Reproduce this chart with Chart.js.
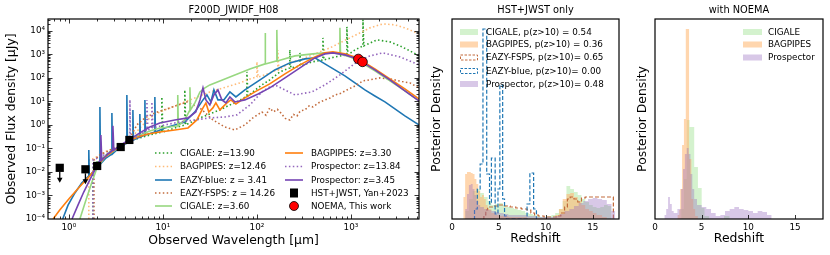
<!DOCTYPE html>
<html>
<head>
<meta charset="utf-8">
<title>F200D_JWIDF_H08</title>
<script src="https://cdn.jsdelivr.net/npm/chart.js@4.4.1/dist/chart.umd.min.js"></script>
<style>
  html, body { margin: 0; padding: 0; background: #fff; }
  #wrap { position: relative; width: 830px; height: 255px; overflow: hidden; }
  #wrap canvas { position: absolute; top: 0; }
</style>
</head>
<body>
<div id="wrap">
  <canvas id="sed" width="425" height="255" style="left:0px"></canvas>
  <canvas id="hstOnly" width="200" height="255" style="left:425px"></canvas>
  <canvas id="withNoema" width="205" height="255" style="left:625px"></canvas>
</div>
<script>
// ---------- SED fits: [wavelength um, flux density uJy] ----------
var cigaleHighZ = [[1.80,1e-4],[1.80,0.020],[2.14,0.032],[2.73,0.071],[3.57,0.128],[4.35,0.208],[5.69,0.28],[7.27,0.375],[9.75,0.50],[9.75,15.5],[10.0,0.50],[13.4,0.745],[17.1,1.0],[17.1,30.8],[17.5,1.0],[24.8,1.99],[31.6,2.94],[40.4,4.35],[51.6,7.1],[61.3,9.52],[78.3,17.1],[78.3,180],[80.2,17.1],[90.6,25.4],[113,50.4],[137,82.2],[176,180],[224,267],[224,1550],[230,267],[287,324],[287,1160],[294,324],[385,480],[504,583],[504,5030],[516,583],[676,783],[906,952],[906,14790],[929,952],[1104,1550],[1343,2300],[1343,29400],[1374,2300],[1892,4140],[2600,3400],[3319,2300],[4246,1410],[5290,863]];
var bagpipesHighZ = [[1.63,1e-4],[1.63,0.032],[1.89,0.039],[2.42,0.071],[3.09,0.105],[3.57,0.128],[4.35,0.208],[5.69,0.745],[7.27,1.99],[9.29,3.57],[11.9,5.29],[15.2,7.83],[19.4,11.6],[24.8,17.1],[31.6,25.4],[40.4,34],[51.6,45.7],[65.9,61.3],[84.3,90.6],[100,110],[100,480],[103,110],[122,134],[155,199],[167,219],[167,1550],[171,219],[224,435],[287,583],[366,863],[468,1280],[598,1890],[764,3080],[975,5030],[1247,8220],[1592,13430],[2188,19860],[2938,18000],[3750,13430],[5290,7450]];
var eazyBlue = [[0.86,1e-4],[0.98,3.9e-4],[1.16,1.28e-3],[1.37,3.4e-3],[1.63,6.8e-3],[1.63,0.086],[1.65,6.8e-3],[1.89,0.0122],[2.14,0.022],[2.14,5.83],[2.17,0.022],[2.48,0.039],[2.87,0.058],[2.87,3.24],[2.91,0.058],[3.32,0.095],[3.85,0.141],[4.14,0.171],[4.14,18.9],[4.2,0.171],[4.80,0.23],[4.80,4.35],[4.86,0.23],[5.69,0.308],[5.69,2.94],[5.76,0.308],[6.44,0.375],[6.44,11.6],[6.52,0.375],[8.22,0.50],[8.22,15.5],[8.32,0.50],[10.5,0.745],[13.4,1.0],[17.1,1.34],[21.9,3.57],[26.7,11.6],[29.4,18.9],[32.4,9.52],[34.9,30.8],[38.5,11.6],[44.5,11.6],[51.6,25.4],[59.8,15.5],[74.5,30.8],[108,82.2],[155,219],[224,435],[324,644],[414,710],[529,394],[676,219],[863,122],[1104,61.3],[1409,30.8],[1799,17.1],[2301,9.52],[2938,4.8],[3750,2.42],[5290,1.0]];
var eazyFsps = [[1.85,1e-4],[1.85,0.032],[2.14,0.053],[2.73,0.086],[3.57,0.128],[4.35,0.23],[5.29,1.0],[6.44,1.99],[8.22,3.24],[11.9,5.29],[18.0,9.52],[24.8,5.29],[34.0,1.63],[45.7,0.82],[58.3,0.61],[74.5,1.0],[90.6,1.99],[113,3.57],[125,2.6],[137,5.29],[150,3.6],[165,4.6],[176,3.57],[200,1.9],[224,1.63],[245,2.8],[267,2.42],[290,4.0],[324,4.35],[360,6.5],[394,5.83],[460,9.0],[529,11.6],[600,14],[676,18.9],[780,22],[906,30.8],[1100,45],[1343,74.5],[1650,85],[2036,100],[2500,92],[2938,82.2],[3500,70],[4246,61.3],[5290,37.5]];
var cigaleLowZ = [[1.31,1e-4],[1.52,6.4e-4],[1.76,3.7e-3],[1.99,0.0148],[2.42,0.043],[3.09,0.086],[3.57,0.128],[4.35,0.208],[5.29,0.34],[6.44,0.457],[7.27,0.555],[9.29,0.745],[11.9,0.82],[14.4,0.91],[14.4,18.9],[14.6,0.91],[17.1,1.63],[19.4,4.35],[19.4,40],[19.7,4.35],[21.9,8.63],[24.8,25.4],[28.0,37.5],[31.6,50.4],[40.4,74.5],[58.3,134],[84.3,242],[122,394],[122,8220],[124,394],[163,529],[163,11030],[165,529],[254,863],[394,1050],[529,1160],[644,1160],[764,1050],[764,13430],[775,1050],[975,783],[1247,480],[1799,199],[2600,74.5],[3750,28],[5290,10.5]];
var bagpipesLowZ = [[0.68,1e-4],[0.80,2.4e-4],[1.02,7.8e-4],[1.31,2.4e-3],[1.67,6.8e-3],[1.99,0.018],[2.42,0.043],[2.94,0.078],[3.57,0.128],[4.35,0.208],[5.42,0.308],[6.92,0.414],[9.29,0.50],[13.4,0.61],[18.5,0.745],[23.0,1.63],[26.7,5.29],[28.7,8.63],[30.8,3.57],[34.0,5.29],[36.6,8.63],[40.4,4.35],[48.0,8.63],[52.9,11.6],[59.8,7.83],[74.5,14.1],[95.2,25.4],[137,55.6],[199,148],[287,357],[414,783],[529,1160],[644,1280],[863,1050],[1104,783],[1309,529],[1799,242],[2600,90.6],[3750,34],[5290,12.8]];
var prospectorHighZ = [[1.80,1e-4],[1.80,0.032],[2.14,0.043],[2.73,0.071],[3.57,0.116],[4.35,0.19],[4.46,0.19],[4.46,11.6],[4.52,0.19],[5.69,0.375],[6.76,0.61],[6.76,11.6],[6.92,0.61],[7.64,0.745],[7.64,9.52],[7.83,0.745],[10.5,1.0],[15.2,1.34],[21.9,1.63],[31.6,1.99],[45.7,2.19],[61.3,2.67],[84.3,7.1],[113,25.4],[137,41.4],[163,45.7],[199,30.8],[254,18.9],[385,25.4],[529,50.4],[764,134],[1159,480],[1592,863],[2188,1160],[3319,783],[5290,357]];
var prospectorLowZ = [[1.08,1e-4],[1.25,3.9e-4],[1.44,1.4e-3],[1.67,4.6e-3],[1.89,0.0122],[2.08,0.027],[2.19,0.032],[2.19,0.375],[2.24,0.032],[2.60,0.058],[2.94,0.086],[2.94,0.91],[3.01,0.086],[3.57,0.141],[4.35,0.23],[5.69,0.457],[7.27,0.82],[9.29,1.22],[13.4,1.63],[18.5,1.99],[22.4,3.57],[24.8,11.6],[26.7,37.5],[28.7,11.6],[31.6,7.1],[34.9,18.9],[38.5,30.8],[42.4,11.6],[46.8,8.63],[51.6,15.5],[58.3,9.52],[74.5,11.6],[103,20.8],[137,37.5],[199,100],[287,267],[414,710],[529,1050],[644,1160],[863,952],[1104,710],[1309,480],[1799,219],[2600,82.2],[3750,28],[5290,10.5]];

// photometry
var hstWave = [2.0, 3.56, 4.4];
var hstFlux = [0.018, 0.115, 0.23];
var hstLimWave = [0.8, 1.5];
var hstLimFlux = [0.015, 0.013];
var noemaWave = [1200, 1330];
var noemaFlux = [640, 480];

// ---------- redshift posteriors: [bin left edge, density] ----------
var pzCigale = [[1.4,0.04],[1.8,0.10],[2.2,0.14],[2.6,0.15],[3.0,0.13],[3.4,0.11],[3.8,0.09],[4.2,0.07],[4.6,0.075],[5.0,0.08],[5.4,0.07],[5.8,0.06],[6.2,0.055],[6.6,0.05],[7.0,0.045],[7.4,0.04],[7.8,0.03],[8.2,0.025],[8.6,0.02],[9.0,0.015],[9.4,0.01],[9.8,0.01],[10.2,0.015],[10.6,0.02],[11.0,0.03],[11.4,0.05],[11.8,0.09],[12.2,0.165],[12.6,0.15],[13.0,0.135],[13.4,0.12],[13.8,0.10],[14.2,0.085],[14.6,0.07],[15.0,0.06],[15.4,0.055],[15.8,0.06],[16.2,0.07],[16.6,0.065],[17.0,0]];
var pzBagpipes = [[1.2,0.11],[1.4,0.225],[1.6,0.235],[1.8,0.235],[2.0,0.23],[2.2,0.225],[2.4,0.2],[2.6,0.175],[2.8,0.14],[3.0,0.11],[3.2,0.12],[3.4,0.10],[3.6,0.07],[3.8,0.05],[4.2,0.03],[4.6,0.02],[5.0,0.015],[6.0,0.01],[8.0,0.005],[10.0,0.005],[11.0,0.02],[11.4,0.05],[11.8,0.10],[12.2,0.125],[12.6,0.13],[13.0,0.11],[13.4,0.09],[13.8,0.07],[14.2,0.05],[14.6,0.04],[15.0,0.03],[15.4,0.02],[16.0,0.01],[16.5,0]];
var pzEazyFsps = [[3.3,0],[3.4,0.02],[3.6,0.045],[3.8,0.06],[4.4,0.065],[5.0,0.07],[5.6,0.065],[6.2,0.06],[6.8,0.055],[7.4,0.05],[8.0,0.045],[8.4,0.03],[8.8,0.02],[9.2,0.015],[9.8,0.01],[10.6,0.01],[11.2,0.015],[11.6,0.03],[12.0,0.06],[12.3,0.10],[12.6,0.11],[13.0,0.10],[13.4,0.085],[13.8,0.105],[14.2,0.11],[17.2,0]];
var pzEazyBlue = [[2.3,0],[2.4,0.05],[2.7,0.15],[3.0,0.275],[3.3,0.95],[3.7,0.225],[4.0,0.075],[4.2,0.305],[4.6,0.025],[4.9,0.15],[5.1,0.67],[5.4,0.1],[5.6,0.015],[5.8,0],[8.0,0.075],[8.3,0.23],[8.7,0.05],[9.0,0]];
var pzProspector = [[1.4,0.05],[1.6,0.125],[1.8,0.17],[2.0,0.175],[2.2,0.15],[2.4,0.12],[2.6,0.09],[2.8,0.07],[3.0,0.06],[3.4,0.05],[3.8,0.045],[4.2,0.04],[4.6,0.035],[5.0,0.03],[5.5,0.025],[6.0,0.02],[7.0,0.02],[8.0,0.015],[9.0,0.01],[10.0,0.01],[11.0,0.015],[11.5,0.025],[12.0,0.04],[12.5,0.05],[13.0,0.065],[13.5,0.08],[14.0,0.09],[14.5,0.1],[15.0,0.105],[15.5,0.1],[16.0,0.095],[16.5,0.075],[17.0,0.04],[17.4,0]];

var pzCigaleNoema = [[2.8,0.05],[3.1,0.2],[3.4,0.495],[3.7,0.46],[4.2,0.26],[4.6,0.155],[5.0,0.055],[5.3,0.015],[5.8,0],[7.4,0.015],[8.0,0]];
var pzBagpipesNoema = [[2.4,0.02],[2.6,0.045],[2.7,0.15],[2.9,0.37],[3.1,0.5],[3.3,0.95],[3.65,0.3],[3.9,0.1],[4.1,0.05],[4.3,0.015],[4.6,0]];
var pzProspectorNoema = [[1.0,0.02],[1.2,0.05],[1.4,0.11],[1.6,0.075],[1.8,0.04],[2.0,0.03],[2.4,0.05],[2.8,0.15],[3.0,0.25],[3.2,0.325],[3.4,0.355],[3.6,0.325],[3.8,0.225],[4.0,0.15],[4.2,0.1],[4.5,0.07],[5.0,0.06],[5.5,0.05],[6.0,0.03],[6.5,0.015],[7.0,0.02],[7.5,0.04],[8.0,0.05],[8.5,0.06],[9.0,0.05],[9.5,0.045],[10.0,0.04],[10.5,0.03],[11.0,0.04],[11.5,0.035],[12.0,0.02],[12.5,0]];

// ---------- colours ----------
var cGreen = '#2ca02c', cLightOrange = '#ffbb78', cBlue = '#1f77b4', cBrown = '#c26b3c';
var cLightGreen = '#98d880', cOrange = '#ff7f0e', cPurple = '#9467bd', cDarkPurple = '#7544b3';
var DOT = [1.5, 2.4];
var FONT = '"DejaVu Sans", sans-serif';

Chart.defaults.font.family = FONT;
Chart.defaults.color = '#000';

var sup = function(n) {
    return String(n).split('').map(function(c) { return c === '-' ? '\u207b' : '\u2070\u00b9\u00b2\u00b3\u2074\u2075\u2076\u2077\u2078\u2079'[+c]; }).join('');
};
var powLabel = function(v) {
    var l = Math.log10(v), r = Math.round(l);
    return Math.abs(l - r) < 1e-6 ? '10' + sup(r) : '';
};
var toXY = function(arr) { return arr.map(function(p) { return {x: p[0], y: p[1]}; }); };
var zip = function(a, b) { return a.map(function(v, i) { return {x: v, y: b[i]}; }); };
var logTicks = function(lo, hi) {
    var t = [];
    for (var n = lo; n <= hi; n++) for (var d = 1; d <= 9; d++) t.push([d * Math.pow(10, n), d === 1 ? 4.5 : 2.5]);
    return t;
};

// draws frame, inward ticks, panel title, legend and upper-limit arrows
var decor = {
    id: 'decor',
    afterDraw: function(chart, args, o) {
        var ctx = chart.ctx, a = chart.chartArea, sx = chart.scales.x, sy = chart.scales.y;
        ctx.save();
        ctx.strokeStyle = '#000';
        ctx.fillStyle = '#000';
        // upper limit arrows
        (o.arrows || []).forEach(function(p) {
            var px = sx.getPixelForValue(p.x), py = sy.getPixelForValue(p.y);
            ctx.lineWidth = 1.3;
            ctx.beginPath(); ctx.moveTo(px, py + 4); ctx.lineTo(px, py + 11); ctx.stroke();
            ctx.beginPath(); ctx.moveTo(px - 2.8, py + 10); ctx.lineTo(px + 2.8, py + 10); ctx.lineTo(px, py + 15); ctx.closePath(); ctx.fill();
        });
        // ticks
        ctx.lineWidth = 0.8;
        ctx.beginPath();
        (o.xTicks || []).forEach(function(t) {
            var p = Math.round(sx.getPixelForValue(t[0])) + 0.5;
            if (p <= a.left + 1 || p >= a.right - 1) return;
            ctx.moveTo(p, a.bottom); ctx.lineTo(p, a.bottom - t[1]);
            if (o.mirror) { ctx.moveTo(p, a.top); ctx.lineTo(p, a.top + t[1]); }
        });
        (o.yTicks || []).forEach(function(t) {
            var p = Math.round(sy.getPixelForValue(t[0])) + 0.5;
            if (p <= a.top + 1 || p >= a.bottom - 1) return;
            ctx.moveTo(a.left, p); ctx.lineTo(a.left + t[1], p);
            if (o.mirror) { ctx.moveTo(a.right, p); ctx.lineTo(a.right - t[1], p); }
        });
        ctx.stroke();
        // frame
        ctx.lineWidth = 1.2;
        ctx.strokeRect(a.left, a.top, a.right - a.left, a.bottom - a.top);
        // title
        ctx.font = '9.8px ' + FONT;
        ctx.textAlign = 'center';
        ctx.textBaseline = 'middle';
        ctx.fillText(o.title, (a.left + a.right) / 2, 10);
        // legend
        ctx.textAlign = 'left';
        ctx.font = '8.8px ' + FONT;
        (o.legend || []).forEach(function(it) {
            ctx.save();
            if (it.kind === 'line') {
                ctx.strokeStyle = it.color; ctx.lineWidth = 1.6; ctx.setLineDash(it.dash || []);
                ctx.beginPath(); ctx.moveTo(it.x, it.y); ctx.lineTo(it.x + it.w, it.y); ctx.stroke();
            } else if (it.kind === 'rect') {
                ctx.fillStyle = it.color; ctx.fillRect(it.x, it.y - 3, it.w, 6);
            } else if (it.kind === 'dashrect') {
                ctx.strokeStyle = it.color; ctx.lineWidth = 1; ctx.setLineDash([2.5, 1.5]);
                ctx.strokeRect(it.x + 0.5, it.y - 2.5, it.w - 1, 5);
            } else if (it.kind === 'square') {
                ctx.fillStyle = '#000'; ctx.fillRect(it.x + it.w / 2 - 4, it.y - 4.5, 8, 9);
            } else if (it.kind === 'circle') {
                ctx.fillStyle = 'red'; ctx.strokeStyle = '#000'; ctx.lineWidth = 0.8;
                ctx.beginPath(); ctx.arc(it.x + it.w / 2, it.y, 4.5, 0, Math.PI * 2); ctx.fill(); ctx.stroke();
            }
            ctx.restore();
            ctx.fillText(it.label, it.tx, it.y + 0.5);
        });
        ctx.restore();
    }
};

var sedLine = function(label, data, color, dotted, order) {
    return {label: label, data: toXY(data), showLine: true, borderColor: color, borderWidth: 1.6,
            borderDash: dotted ? DOT : [], pointRadius: 0, order: order};
};
var histFill = function(label, data, color, order) {
    return {label: label, data: toXY(data), showLine: true, stepped: true, fill: 'origin',
            backgroundColor: color, borderColor: 'rgba(0,0,0,0)', borderWidth: 0, pointRadius: 0, order: order};
};
var histStep = function(label, data, color, order) {
    return {label: label, data: toXY(data), showLine: true, stepped: true, fill: false,
            borderColor: color, borderWidth: 1.2, borderDash: [4, 2], pointRadius: 0, order: order};
};

var noTicksGrid = {display: false, drawTicks: false};

// ---------- left: SED ----------
var r1 = [153, 166.5, 180, 193, 206];
var sedConfig = {
    type: 'scatter',
    data: {
        datasets: [
            sedLine('CIGALE: z=13.90', cigaleHighZ, cGreen, true, 20),
            sedLine('BAGPIPES: z=12.46', bagpipesHighZ, cLightOrange, true, 19),
            sedLine('EAZY-blue: z = 3.41', eazyBlue, cBlue, false, 18),
            sedLine('EAZY-FSPS: z = 14.26', eazyFsps, cBrown, true, 17),
            sedLine('CIGALE: z=3.60', cigaleLowZ, cLightGreen, false, 16),
            sedLine('BAGPIPES: z=3.30', bagpipesLowZ, cOrange, false, 15),
            sedLine('Prospector: z=13.84', prospectorHighZ, cPurple, true, 14),
            sedLine('Prospector: z=3.45', prospectorLowZ, cDarkPurple, false, 13),
            {label: 'HST+JWST, Yan+2023', data: zip(hstWave.concat(hstLimWave), hstFlux.concat(hstLimFlux)),
             pointStyle: 'rect', pointRadius: 5.8, backgroundColor: '#000', borderColor: '#000', borderWidth: 0, order: 2},
            {label: 'NOEMA, This work', data: zip(noemaWave, noemaFlux),
             pointStyle: 'circle', pointRadius: 4.8, backgroundColor: 'red', borderColor: '#000', borderWidth: 0.8, order: 1}
        ]
    },
    options: {
        responsive: false,
        animation: false,
        layout: {padding: {top: 19, right: 6, left: 0, bottom: 0}},
        plugins: {
            legend: {display: false},
            tooltip: {enabled: false},
            decor: {
                title: 'F200D_JWIDF_H08',
                mirror: true,
                xTicks: logTicks(-1, 3),
                yTicks: logTicks(-5, 4),
                arrows: zip(hstLimWave, hstLimFlux),
                legend: [
                    {kind: 'line', x: 155, w: 17, y: r1[0], color: cGreen, dash: DOT, tx: 180, label: 'CIGALE: z=13.90'},
                    {kind: 'line', x: 155, w: 17, y: r1[1], color: cLightOrange, dash: DOT, tx: 180, label: 'BAGPIPES: z=12.46'},
                    {kind: 'line', x: 155, w: 17, y: r1[2], color: cBlue, tx: 180, label: 'EAZY-blue: z = 3.41'},
                    {kind: 'line', x: 155, w: 17, y: r1[3], color: cBrown, dash: DOT, tx: 180, label: 'EAZY-FSPS: z = 14.26'},
                    {kind: 'line', x: 155, w: 17, y: r1[4], color: cLightGreen, tx: 180, label: 'CIGALE: z=3.60'},
                    {kind: 'line', x: 285, w: 18, y: r1[0], color: cOrange, tx: 311, label: 'BAGPIPES: z=3.30'},
                    {kind: 'line', x: 285, w: 18, y: r1[1], color: cPurple, dash: DOT, tx: 311, label: 'Prospector: z=13.84'},
                    {kind: 'line', x: 285, w: 18, y: r1[2], color: cDarkPurple, tx: 311, label: 'Prospector: z=3.45'},
                    {kind: 'square', x: 285, w: 18, y: r1[3], tx: 311, label: 'HST+JWST, Yan+2023'},
                    {kind: 'circle', x: 285, w: 18, y: r1[4], tx: 311, label: 'NOEMA, This work'}
                ]
            }
        },
        scales: {
            x: {
                type: 'logarithmic', min: 0.6, max: 5300,
                grid: noTicksGrid, border: {display: false},
                ticks: {autoSkip: false, maxRotation: 0, minRotation: 0, padding: 3, font: {size: 8.8}, callback: powLabel},
                title: {display: true, text: 'Observed Wavelength [\u03bcm]', font: {size: 12.4}, padding: {top: 0, bottom: 6.5}},
                afterFit: function(s) { s.height = 36; }
            },
            y: {
                type: 'logarithmic', min: 1e-4, max: 3.2e4,
                grid: noTicksGrid, border: {display: false},
                ticks: {autoSkip: false, padding: 3, font: {size: 8.8}, callback: powLabel},
                title: {display: true, text: 'Observed Flux density [\u03bcJy]', font: {size: 12.4}, padding: {top: 4.5, bottom: 0}},
                afterFit: function(s) { s.width = 48; }
            }
        }
    },
    plugins: [decor]
};

var zScales = function(xmax, yTitlePad) {
    return {
        x: {
            type: 'linear', min: 0, max: xmax,
            grid: noTicksGrid, border: {display: false},
            ticks: {stepSize: 5, includeBounds: false, autoSkip: false, maxRotation: 0, padding: 3, font: {size: 8.8},
                    callback: function(v) { return v % 5 === 0 ? String(v) : ''; }},
            title: {display: true, text: 'Redshift', font: {size: 12.4}, padding: {top: 0, bottom: 8.5}},
            afterFit: function(s) { s.height = 36; }
        },
        y: {
            type: 'linear', min: 0, max: 1,
            grid: noTicksGrid, border: {display: false},
            ticks: {display: false},
            title: {display: true, text: 'Posterior Density', font: {size: 12.4}, padding: {top: yTitlePad, bottom: 0}},
            afterFit: function(s) { s.width = (yTitlePad > 6 ? 30 : 27); }
        }
    };
};
var zTicks = [[0, 4], [5, 4], [10, 4], [15, 4]];

var fGreen = 'rgba(152,223,138,0.42)', fOrange = 'rgba(255,187,120,0.6)', fPurple = 'rgba(148,103,189,0.36)';

// ---------- middle: HST+JWST only ----------
var r2 = [32, 44.5, 57.5, 71, 84];
var midConfig = {
    type: 'scatter',
    data: {
        datasets: [
            histFill('CIGALE, p(z>10) = 0.54', pzCigale, fGreen, 20),
            histFill('BAGPIPES, p(z>10) = 0.36', pzBagpipes, fOrange, 19),
            histStep('EAZY-FSPS, p(z>10)= 0.65', pzEazyFsps, cBrown, 18),
            histStep('EAZY-blue, p(z>10)= 0.00', pzEazyBlue, cBlue, 17),
            histFill('Prospector, p(z>10)= 0.48', pzProspector, fPurple, 16)
        ]
    },
    options: {
        responsive: false,
        animation: false,
        layout: {padding: {top: 19, right: 6, left: 0, bottom: 0}},
        plugins: {
            legend: {display: false},
            tooltip: {enabled: false},
            decor: {
                title: 'HST+JWST only',
                xTicks: zTicks,
                legend: [
                    {kind: 'rect', x: 460, w: 18, y: r2[0], color: fGreen, tx: 486, label: 'CIGALE, p(z>10) = 0.54'},
                    {kind: 'rect', x: 460, w: 18, y: r2[1], color: fOrange, tx: 486, label: 'BAGPIPES, p(z>10) = 0.36'},
                    {kind: 'dashrect', x: 460, w: 18, y: r2[2], color: cBrown, tx: 486, label: 'EAZY-FSPS, p(z>10)= 0.65'},
                    {kind: 'dashrect', x: 460, w: 18, y: r2[3], color: cBlue, tx: 486, label: 'EAZY-blue, p(z>10)= 0.00'},
                    {kind: 'rect', x: 460, w: 18, y: r2[4], color: fPurple, tx: 486, label: 'Prospector, p(z>10)= 0.48'}
                ].map(function(it) { it.x -= 425; it.tx -= 425; return it; })
            }
        },
        scales: zScales(17.8, 4.5)
    },
    plugins: [decor]
};

// ---------- right: with NOEMA ----------
var noemaConfig = {
    type: 'scatter',
    data: {
        datasets: [
            histFill('CIGALE', pzCigaleNoema, fGreen, 20),
            histFill('BAGPIPES', pzBagpipesNoema, fOrange, 19),
            histFill('Prospector', pzProspectorNoema, fPurple, 18)
        ]
    },
    options: {
        responsive: false,
        animation: false,
        layout: {padding: {top: 19, right: 7, left: 0, bottom: 0}},
        plugins: {
            legend: {display: false},
            tooltip: {enabled: false},
            decor: {
                title: 'with NOEMA',
                xTicks: zTicks,
                legend: [
                    {kind: 'rect', x: 743, w: 19, y: r2[0], color: fGreen, tx: 768, label: 'CIGALE'},
                    {kind: 'rect', x: 743, w: 19, y: r2[1], color: fOrange, tx: 768, label: 'BAGPIPES'},
                    {kind: 'rect', x: 743, w: 19, y: r2[2], color: fPurple, tx: 768, label: 'Prospector'}
                ].map(function(it) { it.x -= 625; it.tx -= 625; return it; })
            }
        },
        scales: zScales(18, 10.5)
    },
    plugins: [decor]
};

window.sedChart = new Chart(document.getElementById('sed'), sedConfig);
window.midChart = new Chart(document.getElementById('hstOnly'), midConfig);
window.noemaChart = new Chart(document.getElementById('withNoema'), noemaConfig);
</script>
</body>
</html>
